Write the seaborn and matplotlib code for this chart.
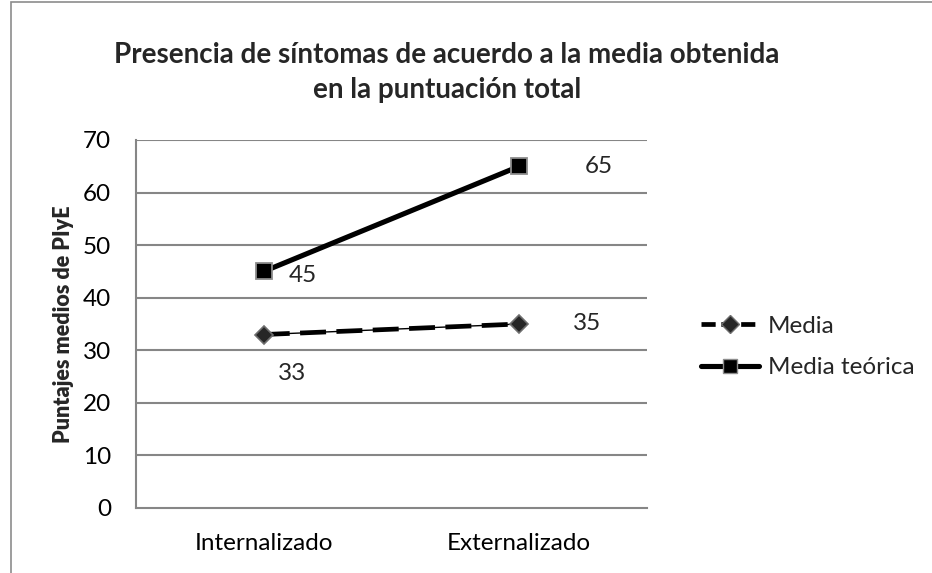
import matplotlib
matplotlib.use("Agg")
import matplotlib.pyplot as plt
from matplotlib.patches import Rectangle
from matplotlib.lines import Line2D
import seaborn as sns
import pandas as pd

categories = ["Internalizado", "Externalizado"]
media = [33, 35]
media_teorica = [45, 65]
series_names = ["Media", "Media teórica"]
y_ticks = [0, 10, 20, 30, 40, 50, 60, 70]

sns.set_theme(style="white")
plt.rcParams["font.family"] = ["Lato", "DejaVu Sans"]

df = pd.DataFrame({
    "categoria": categories * 2,
    "valor": media + media_teorica,
    "serie": [series_names[0]] * 2 + [series_names[1]] * 2,
})
df["x"] = df["categoria"].map({c: i for i, c in enumerate(categories)})

W, H = 932, 573
fig = plt.figure(figsize=(W / 100, H / 100), dpi=100)
ax = fig.add_axes([136 / W, 1 - 508 / H, (647 - 136) / W, (508 - 140) / H])

grid_c = "#868686"
fs = 17.5

# thin continuous line underneath the dashed series
sub = df[df["serie"] == series_names[0]]
ax.plot(sub["x"], sub["valor"], color="black", lw=1.0, zorder=2)

sns.lineplot(data=df[df["serie"] == series_names[0]], x="x", y="valor", ax=ax,
             color="black", lw=3.4, marker="D", markersize=9,
             markerfacecolor="#262626", markeredgecolor="#6e6e6e", markeredgewidth=1.2,
             legend=False, zorder=3)
ax.lines[-1].set_dashes([5.5, 2.2])
sns.lineplot(data=df[df["serie"] == series_names[1]], x="x", y="valor", ax=ax,
             color="black", lw=3.7, marker="s", markersize=11,
             markerfacecolor="black", markeredgecolor="#8c8c8c", markeredgewidth=1.3,
             legend=False, zorder=3)

ax.set_xlim(-0.5, 1.5)
ax.set_ylim(0, 70)
ax.set_yticks(y_ticks)
ax.set_xticks(range(len(categories)))
ax.set_xticklabels(categories)
ax.tick_params(axis="both", labelsize=fs, colors="black", length=0)
ax.tick_params(axis="y", pad=18)
ax.tick_params(axis="x", pad=18)
for y in y_ticks[1:]:
    ax.axhline(y, color=grid_c, lw=1.5, zorder=1)
for s in ["top", "right"]:
    ax.spines[s].set_visible(False)
for s in ["left", "bottom"]:
    ax.spines[s].set_color(grid_c)
    ax.spines[s].set_linewidth(1.5)

ax.set_xlabel("")
ax.set_ylabel("Puntajes medios de PIyE", fontsize=15.5, fontweight="heavy", labelpad=6)

# data labels
ax.annotate(f"{media_teorica[0]}", (0, media_teorica[0]), xytext=(18, -3),
            textcoords="offset points", fontsize=fs, va="center", ha="left")
ax.annotate(f"{media_teorica[1]}", (1, media_teorica[1]), xytext=(47, 0),
            textcoords="offset points", fontsize=fs, va="center", ha="left")
ax.annotate(f"{media[0]}", (0, media[0]), xytext=(10, -28), textcoords="offset points",
            fontsize=fs, va="center", ha="left")
ax.annotate(f"{media[1]}", (1, media[1]), xytext=(39, 0), textcoords="offset points",
            fontsize=fs, va="center", ha="left")

fig.text(447 / W, 1 - 55 / H, "Presencia de síntomas de acuerdo a la media obtenida",
         ha="center", va="center", fontsize=20, fontweight="bold")
fig.text(447 / W, 1 - 90 / H, "en la puntuación total",
         ha="center", va="center", fontsize=20, fontweight="bold")

handles = [
    Line2D([], [], color="black", lw=3.4, dashes=[3, 1.2], marker="D", markersize=9,
           markerfacecolor="#262626", markeredgecolor="#6e6e6e"),
    Line2D([], [], color="black", lw=3.7, marker="s", markersize=10,
           markerfacecolor="black", markeredgecolor="#8c8c8c"),
]
fig.legend(handles, series_names, loc="center left", bbox_to_anchor=(679 / W, 1 - 347 / H),
           frameon=False, fontsize=fs, handlelength=2.4, handletextpad=0.35, labelspacing=0.85)

# chart border
fig.add_artist(Rectangle((11 / W, -0.1), 1.2, 1 - 2 / H + 0.1, transform=fig.transFigure,
                         fill=False, edgecolor="#8c8c8c", lw=1.2))

fig.savefig("out.png", dpi=100)
